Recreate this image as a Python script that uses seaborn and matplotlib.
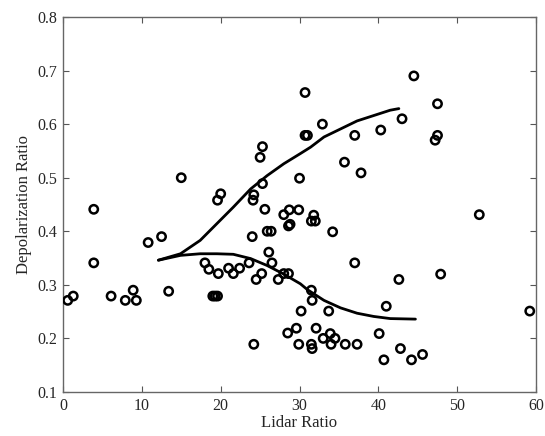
import matplotlib
matplotlib.use("Agg")
import matplotlib.pyplot as plt
import seaborn as sns
import pandas as pd

lidar_ratio = [0.6, 1.3, 3.9, 3.9, 6.1, 7.9, 8.9, 9.3, 10.8, 12.5, 13.4, 15.0,
               18.0, 18.5, 19.7, 19.0, 19.3, 19.6, 19.6, 20.0, 21.0, 21.6, 22.4,
               23.6, 24.0, 24.1, 24.2, 24.5, 25.2, 25.0, 25.3, 25.3, 25.6, 25.9,
               26.4, 26.1, 26.5, 27.3, 28.0, 28.6, 28.0, 28.7, 29.9, 28.6, 28.8,
               30.0, 30.7, 30.7, 31.0, 32.9, 30.2, 29.6, 28.5, 29.9, 24.2,
               31.5, 31.8, 32.0, 34.2, 35.7, 37.0, 37.8, 40.3, 43.0, 44.5, 47.5,
               47.5, 47.2, 52.8, 37.0, 42.6, 47.9, 59.2, 31.5, 31.6, 33.7, 41.0,
               32.1, 31.5, 31.6, 33.0, 33.9, 34.5, 34.0, 35.8, 37.3, 40.1, 40.7,
               42.8, 44.2, 45.6]
depol_ratio = [0.271, 0.279, 0.441, 0.341, 0.279, 0.271, 0.290, 0.271, 0.379, 0.390, 0.288, 0.500,
               0.341, 0.329, 0.321, 0.279, 0.279, 0.279, 0.458, 0.470, 0.331, 0.321, 0.331,
               0.341, 0.390, 0.458, 0.468, 0.310, 0.321, 0.538, 0.558, 0.489, 0.441, 0.400,
               0.400, 0.361, 0.341, 0.310, 0.321, 0.321, 0.431, 0.440, 0.440, 0.410, 0.413,
               0.499, 0.659, 0.579, 0.579, 0.600, 0.251, 0.219, 0.210, 0.189, 0.189,
               0.419, 0.430, 0.419, 0.399, 0.529, 0.579, 0.509, 0.589, 0.610, 0.690, 0.638,
               0.579, 0.570, 0.431, 0.341, 0.310, 0.320, 0.251, 0.290, 0.271, 0.251, 0.260,
               0.219, 0.189, 0.181, 0.200, 0.209, 0.200, 0.189, 0.189, 0.189, 0.209, 0.160,
               0.181, 0.160, 0.170]

upper_x = [12.1, 14.9, 17.4, 19.5, 21.6, 23.8, 25.9, 28.0, 30.1, 31.4, 33.1,
           35.2, 37.3, 39.4, 41.5, 42.6]
upper_y = [0.346, 0.358, 0.383, 0.414, 0.445, 0.479, 0.504, 0.526, 0.545, 0.557, 0.576,
           0.591, 0.606, 0.616, 0.626, 0.629]
lower_x = [12.1, 14.9, 17.4, 19.5, 21.6, 23.8, 25.9, 28.0, 30.1, 31.0, 33.1,
           35.2, 37.3, 39.4, 41.5, 44.7]
lower_y = [0.346, 0.355, 0.358, 0.358, 0.357, 0.349, 0.336, 0.320, 0.302, 0.291, 0.271,
           0.257, 0.247, 0.241, 0.237, 0.236]

x_ticks = [0, 10, 20, 30, 40, 50, 60]
y_ticks = [0.1, 0.2, 0.3, 0.4, 0.5, 0.6, 0.7, 0.8]

sns.set_style("ticks")
plt.rcParams['font.family'] = ['Liberation Serif', 'DejaVu Serif']
plt.rcParams['xtick.direction'] = 'in'
plt.rcParams['ytick.direction'] = 'in'

fig = plt.figure(figsize=(5.45, 4.36), dpi=100)
ax = fig.add_axes([0.1156, 0.101, 0.868, 0.860])

pts = pd.DataFrame({"x": lidar_ratio, "y": depol_ratio})
sns.scatterplot(data=pts, x="x", y="y", ax=ax, marker="o", s=36,
                facecolors="none", edgecolor="black", linewidth=1.8, zorder=3)
up = pd.DataFrame({"x": upper_x, "y": upper_y})
lo = pd.DataFrame({"x": lower_x, "y": lower_y})
sns.lineplot(data=up, x="x", y="y", ax=ax, color="black", lw=2.0, sort=False)
sns.lineplot(data=lo, x="x", y="y", ax=ax, color="black", lw=2.0, sort=False)

ax.set_xlim(0, 60)
ax.set_ylim(0.1, 0.8)
ax.set_xticks(x_ticks)
ax.set_yticks(y_ticks)
ax.set_yticklabels([f"{v:.1f}" for v in y_ticks])
ax.tick_params(axis="both", labelsize=11.5, top=True, right=True, length=4, width=0.8,
               color="#555555", pad=4)
for s in ax.spines.values():
    s.set_color("#666666")
    s.set_linewidth(1.0)
ax.set_xlabel("Lidar Ratio", fontsize=12, labelpad=1)
ax.set_ylabel("Depolarization Ratio", fontsize=12, labelpad=4)

fig.savefig("out.png", dpi=100)
